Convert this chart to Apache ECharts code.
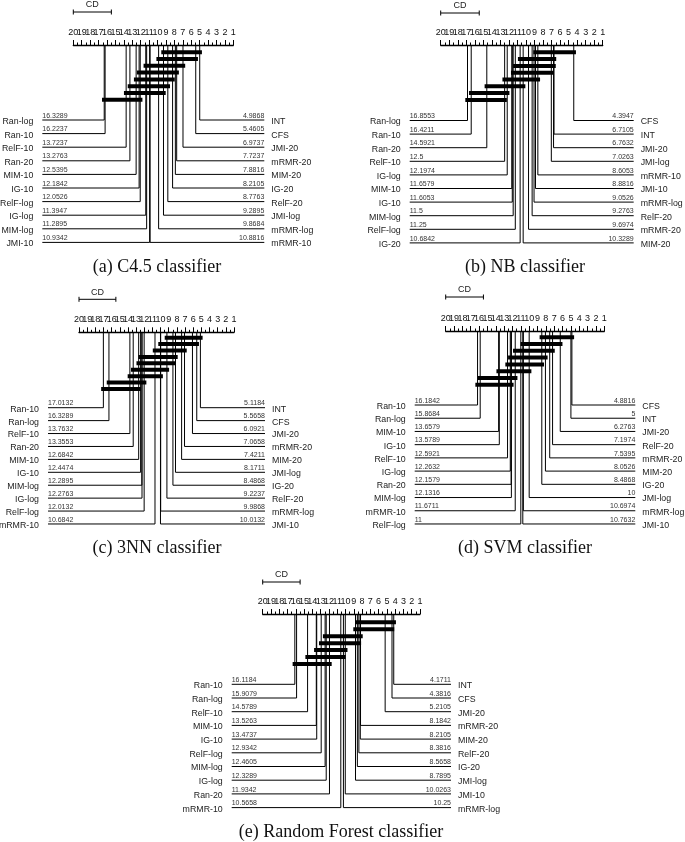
<!DOCTYPE html>
<html><head><meta charset="utf-8">
<script src="https://cdn.jsdelivr.net/npm/echarts@6/dist/echarts.min.js"></script>
<style>html,body{margin:0;padding:0;background:#fff}#c{width:685px;height:842px}</style>
</head><body><div id="c"></div>
<script>
// ---------------- data ----------------
const CD = 4.52;
const rankTicks = [20,19,18,17,16,15,14,13,12,11,10,9,8,7,6,5,4,3,2,1];

// (a) C4.5
const c45LeftNames  = ['Ran-log','Ran-10','RelF-10','Ran-20','MIM-10','IG-10','RelF-log','IG-log','MIM-log','JMI-10'];
const c45LeftRanks  = [16.3289,16.2237,13.7237,13.2763,12.5395,12.1842,12.0526,11.3947,11.2895,10.9342];
const c45RightNames = ['INT','CFS','JMI-20','mRMR-20','MIM-20','IG-20','RelF-20','JMI-log','mRMR-log','mRMR-10'];
const c45RightRanks = [4.9868,5.4605,6.9737,7.7237,7.8816,8.2105,8.7763,9.2895,9.8684,10.8816];
const c45CliqueLo = [4.9868,5.4605,6.9737,7.7237,8.2105,8.7763,9.2895,12.0526];
const c45CliqueHi = [9.2895,9.8684,11.3947,12.1842,12.5395,13.2763,13.7237,16.3289];

// (b) NB
const nbLeftNames  = ['Ran-log','Ran-10','Ran-20','RelF-10','IG-log','MIM-10','IG-10','MIM-log','RelF-log','IG-20'];
const nbLeftRanks  = [16.8553,16.4211,14.5921,12.5,12.1974,11.6579,11.6053,11.5,11.25,10.6842];
const nbRightNames = ['CFS','INT','JMI-20','JMI-log','mRMR-10','JMI-10','mRMR-log','RelF-20','mRMR-20','MIM-20'];
const nbRightRanks = [4.3947,6.7105,6.7632,7.0263,8.6053,8.8816,9.0526,9.2763,9.6974,10.3289];
const nbCliqueLo = [4.3947,6.7105,6.7632,7.0263,8.6053,10.3289,12.1974,12.5];
const nbCliqueHi = [8.8816,10.6842,11.25,11.5,12.5,14.5921,16.4211,16.8553];

// (c) 3NN
const knnLeftNames  = ['Ran-10','Ran-log','RelF-10','Ran-20','MIM-10','IG-10','MIM-log','IG-log','RelF-log','mRMR-10'];
const knnLeftRanks  = [17.0132,16.3289,13.7632,13.3553,12.6842,12.4474,12.2895,12.2763,12.0132,10.6842];
const knnRightNames = ['INT','CFS','JMI-20','mRMR-20','MIM-20','JMI-log','IG-20','RelF-20','mRMR-log','JMI-10'];
const knnRightRanks = [5.1184,5.5658,6.0921,7.0658,7.4211,8.1711,8.4868,9.2237,9.9868,10.0132];
const knnCliqueLo = [5.1184,5.5658,7.0658,8.1711,8.4868,9.2237,9.9868,12.0132,12.6842];
const knnCliqueHi = [9.2237,10.0132,10.6842,12.4474,12.6842,13.3553,13.7632,16.3289,17.0132];

// (d) SVM
const svmLeftNames  = ['Ran-10','Ran-log','MIM-10','IG-10','RelF-10','IG-log','Ran-20','MIM-log','mRMR-10','RelF-log'];
const svmLeftRanks  = [16.1842,15.8684,13.6579,13.5789,12.5921,12.2632,12.1579,12.1316,11.6711,11];
const svmRightNames = ['CFS','INT','JMI-20','RelF-20','mRMR-20','MIM-20','IG-20','JMI-log','mRMR-log','JMI-10'];
const svmRightRanks = [4.8816,5,6.2763,7.1974,7.5395,8.0526,8.4868,10,10.6974,10.7632];
const svmCliqueLo = [4.8816,6.2763,7.1974,8.0526,8.4868,10,11.6711,12.1316];
const svmCliqueHi = [8.4868,10.7632,11.6711,12.2632,12.5921,13.6579,15.8684,16.1842];

// (e) Random Forest
const rfLeftNames  = ['Ran-10','Ran-log','RelF-10','MIM-10','IG-10','RelF-log','MIM-log','IG-log','Ran-20','mRMR-10'];
const rfLeftRanks  = [16.1184,15.9079,14.5789,13.5263,13.4737,12.9342,12.4605,12.3289,11.9342,10.5658];
const rfRightNames = ['INT','CFS','JMI-20','mRMR-20','MIM-20','RelF-20','IG-20','JMI-log','JMI-10','mRMR-log'];
const rfRightRanks = [4.1711,4.3816,5.2105,8.1842,8.2105,8.3816,8.5658,8.7895,10.0263,10.25];
const rfCliqueLo = [4.1711,4.3816,8.1842,8.3816,10.0263,10.25,11.9342];
const rfCliqueHi = [8.5658,8.7895,12.4605,12.9342,13.5263,14.5789,16.1184];

const captions = ['(a) C4.5 classifier','(b) NB classifier','(c) 3NN classifier','(d) SVM classifier','(e) Random Forest classifier'];

// ---------------- layout ----------------
const panels = [
  {L:[c45LeftNames,c45LeftRanks], R:[c45RightNames,c45RightRanks], C:[c45CliqueLo,c45CliqueHi],
   left:73.3, width:160, top:45, rowStart:75, rowStep:13.6, barStart:7.3, barStep:6.77, cdY:-33, capX:157, capY:267},
  {L:[nbLeftNames,nbLeftRanks], R:[nbRightNames,nbRightRanks], C:[nbCliqueLo,nbCliqueHi],
   left:440.7, width:162, top:45, rowStart:75.5, rowStep:13.6, barStart:7.3, barStep:6.8, cdY:-32, capX:525, capY:267},
  {L:[knnLeftNames,knnLeftRanks], R:[knnRightNames,knnRightRanks], C:[knnCliqueLo,knnCliqueHi],
   left:79, width:155, top:332.3, rowStart:75.4, rowStep:12.92, barStart:5.4, barStep:6.41, cdY:-33, capX:157, capY:548},
  {L:[svmLeftNames,svmLeftRanks], R:[svmRightNames,svmRightRanks], C:[svmCliqueLo,svmCliqueHi],
   left:445.7, width:158.6, top:331, rowStart:74, rowStep:13.22, barStart:6.3, barStep:6.77, cdY:-34, capX:525, capY:548},
  {L:[rfLeftNames,rfLeftRanks], R:[rfRightNames,rfRightRanks], C:[rfCliqueLo,rfCliqueHi],
   left:262.7, width:157.3, top:614, rowStart:70.3, rowStep:13.7, barStart:8.3, barStep:6.95, cdY:-32, capX:341, capY:832}
];
const EXT = 31;
const SANS = '"Liberation Sans", Arial, Helvetica, sans-serif';
const SERIF = '"Liberation Serif", "Times New Roman", serif';
const YMAX = 200;

const grid = [], xAxis = [], yAxis = [], series = [], graphic = [];

panels.forEach((P, i) => {
  grid.push({left:P.left, top:P.top, width:P.width, height:YMAX, containLabel:false});
  xAxis.push({
    type:'value', gridIndex:i, position:'top', min:1, max:20, interval:1, inverse:true,
    axisLine:{show:true, lineStyle:{color:'#000', width:1.3}},
    axisTick:{show:true, length:5, lineStyle:{color:'#000', width:1}},
    minorTick:{show:true, splitNumber:2, length:2.5, lineStyle:{color:'#000', width:1}},
    splitLine:{show:false}, minorSplitLine:{show:false},
    axisLabel:{show:false}
  });
  yAxis.push({type:'value', gridIndex:i, min:0, max:YMAX, inverse:true, show:false});

  // tick labels (all shown, crowded like the original)
  series.push({
    type:'custom', xAxisIndex:i, yAxisIndex:i, clip:false, silent:true, animation:false,
    data:rankTicks.map(v => [v, 0]),
    renderItem:function(params, api){
      const p = api.coord([api.value(0), 0]);
      return {type:'text', style:{text:String(api.value(0)), x:p[0], y:p[1]-12.5, align:'center',
        verticalAlign:'middle', fontSize:9, fontFamily:SANS, fill:'#111'}};
    }
  });

  const names = P.L[0].concat(P.R[0]);
  const mdata = [];
  P.L[1].forEach((r, k) => mdata.push([r, k, 0]));
  P.R[1].forEach((r, k) => mdata.push([r, k, 1]));

  // method lines + labels
  series.push({
    type:'custom', xAxisIndex:i, yAxisIndex:i, clip:false, silent:true, animation:false,
    data:mdata,
    renderItem:function(params, api){
      const rank = api.value(0), row = api.value(1), side = api.value(2);
      const yv = P.rowStart + row*P.rowStep;
      const pTop = api.coord([rank, 0]);
      const pRow = api.coord([rank, yv]);
      const edge = api.coord([side ? 1 : 20, yv])[0];
      const xEnd = side ? edge + EXT : edge - EXT;
      const x = pTop[0], y = pRow[1];
      return {type:'group', children:[
        {type:'polyline', shape:{points:[[x, pTop[1]], [x, y], [xEnd, y]]},
         style:{stroke:'#000', lineWidth:1, fill:null}},
        {type:'text', style:{text:String(rank), x:xEnd, y:y-4.3, align: side ? 'right' : 'left',
          verticalAlign:'middle', fontSize:7, fontFamily:SANS, fill:'#333'}},
        {type:'text', style:{text:names[params.dataIndex], x: side ? xEnd+7 : xEnd-9, y:y+1.5,
          align: side ? 'left' : 'right', verticalAlign:'middle', fontSize:8.8, fontFamily:SANS, fill:'#222'}}
      ]};
    }
  });

  // clique bars
  const cdata = P.C[0].map((lo, k) => [lo, P.C[1][k], k]);
  series.push({
    type:'custom', xAxisIndex:i, yAxisIndex:i, clip:false, silent:true, animation:false,
    data:cdata,
    renderItem:function(params, api){
      const lo = api.value(0), hi = api.value(1), k = api.value(2);
      const yv = P.barStart + k*P.barStep;
      const a = api.coord([hi, yv]), b = api.coord([lo, yv]);
      return {type:'line', shape:{x1:a[0]-2.2, y1:a[1], x2:b[0]+2.2, y2:b[1]},
        style:{stroke:'#000', lineWidth:4, lineCap:'butt'}};
    }
  });

  // CD bar
  series.push({
    type:'custom', xAxisIndex:i, yAxisIndex:i, clip:false, silent:true, animation:false,
    data:[[20, 20 - CD]],
    renderItem:function(params, api){
      const a = api.coord([api.value(0), P.cdY]), b = api.coord([api.value(1), P.cdY]);
      return {type:'group', children:[
        {type:'line', shape:{x1:a[0], y1:a[1], x2:b[0], y2:b[1]}, style:{stroke:'#000', lineWidth:1}},
        {type:'line', shape:{x1:a[0], y1:a[1]-2.5, x2:a[0], y2:a[1]+2.5}, style:{stroke:'#000', lineWidth:1}},
        {type:'line', shape:{x1:b[0], y1:b[1]-2.5, x2:b[0], y2:b[1]+2.5}, style:{stroke:'#000', lineWidth:1}},
        {type:'text', style:{text:'CD', x:(a[0]+b[0])/2, y:a[1]-7, align:'center', verticalAlign:'middle',
          fontSize:9, fontFamily:SANS, fill:'#222'}}
      ]};
    }
  });

  graphic.push({type:'text', x:P.capX, y:P.capY, silent:true,
    style:{text:captions[i], align:'center', verticalAlign:'middle', fontSize:18, fontFamily:SERIF, fill:'#111'}});
});

const chart = echarts.init(document.getElementById('c'), null, {renderer:'canvas'});
chart.setOption({animation:false, backgroundColor:'#fff', grid, xAxis, yAxis, series, graphic});
</script>
</body></html>
